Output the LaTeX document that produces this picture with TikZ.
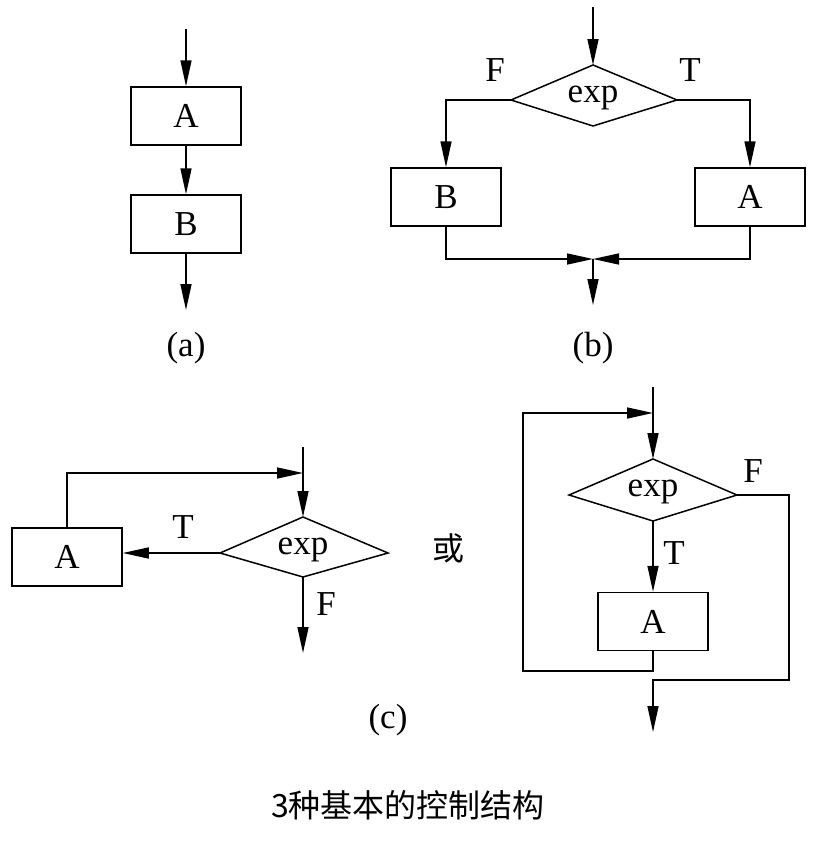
\documentclass[tikz,border=0pt]{standalone}
\usepackage{fontspec}
\setmainfont{Liberation Serif}
\newfontfamily\cjk{Noto Sans CJK SC}
\usetikzlibrary{arrows.meta}
\begin{document}
\begin{tikzpicture}[x=1pt,y=-1pt,
  every node/.style={font=\fontsize{35}{38}\selectfont},
  box/.style={draw,line width=1.5pt,minimum width=110pt,minimum height=58pt,inner sep=0pt},
  ln/.style={line width=1.5pt},
  arr/.style={line width=1.5pt,-{Triangle[length=26pt,width=11pt]}}]
\useasboundingbox (0,0) rectangle (816,846);

% ---------- (a) ----------
\node[box] (aA) at (186,116) {A};
\node[box] (aB) at (186,224) {B};
\coordinate (a0) at (186,29);
\coordinate (a1) at (186,310);
\draw[arr] (a0) -- (aA.north);
\draw[arr] (aA.south) -- (aB.north);
\draw[arr] (aB.south) -- (a1);
\node (la) at (186,348) {(a)};

% ---------- (b) ----------
\node (bd) at (593,98) {exp};
\coordinate (bdN) at (593,65);
\coordinate (bdW) at (511,100);
\coordinate (bdE) at (677,100);
\coordinate (bdS) at (593,126);
\draw[ln] (bdN) -- (bdE) -- (bdS) -- (bdW) -- cycle;
\node[box] (bB) at (446,197) {B};
\node[box] (bA) at (750,197) {A};
\coordinate (b0) at (593,7);
\coordinate (bm) at (593,259);
\coordinate (b1) at (593,305);
\draw[arr] (b0) -- (bdN);
\draw[arr] (bdW) -| (bB.north);
\draw[arr] (bdE) -| (bA.north);
\draw[arr] (bB.south) |- (bm);
\draw[arr] (bA.south) |- (bm);
\draw[arr] (bm) -- (b1);
\node (bF) at (495,70) {F};
\node (bT) at (690,70) {T};
\node (lb) at (593,348) {(b)};

% ---------- (c) left ----------
\node (cd) at (303,550) {exp};
\coordinate (cdN) at (303,517);
\coordinate (cdW) at (220,553);
\coordinate (cdE) at (388,553);
\coordinate (cdS) at (303,577);
\draw[ln] (cdN) -- (cdE) -- (cdS) -- (cdW) -- cycle;
\node[box] (cA) at (67,557) {A};
\coordinate (c0) at (303,447);
\coordinate (cj) at (303,473);
\coordinate (c1) at (303,653);
\draw[arr] (c0) -- (cdN);
\draw[arr] (cA.north) |- (cj);
\draw[arr] (cdW) -- (cdW -| cA.east);
\draw[arr] (cdS) -- (c1);
\node (cT) at (183,527) {T};
\node (cF) at (326,604) {F};
\node (lc) at (388,720) {(c)};
\node[font=\cjk\fontsize{32}{34}\selectfont] (or) at (448,548) {或};

% ---------- (c) right ----------
\node (dd) at (653,492) {exp};
\coordinate (dN) at (653,459);
\coordinate (dW) at (569,495);
\coordinate (dE) at (737,495);
\coordinate (dS) at (653,521);
\draw[ln] (dN) -- (dE) -- (dS) -- (dW) -- cycle;
\node[box] (dA) at (653,621.5) {A};
\coordinate (d0) at (653,387);
\coordinate (dj) at (653,413);
\coordinate (dl) at (523,671);
\coordinate (dr) at (789,680);
\coordinate (d1) at (653,732);
\draw[arr] (d0) -- (dN);
\draw[arr] (dA.south) |- (dl) |- (dj);
\draw[arr] (dS) -- (dA.north);
\draw[arr] (dE) -| (dr) -| (d1);
\node (dT) at (674,553) {T};
\node (dF) at (753,471) {F};

% ---------- caption ----------
\node[font=\cjk\fontsize{32}{34}\selectfont] (cap) at (408,805) {3种基本的控制结构};
\end{tikzpicture}
\end{document}
